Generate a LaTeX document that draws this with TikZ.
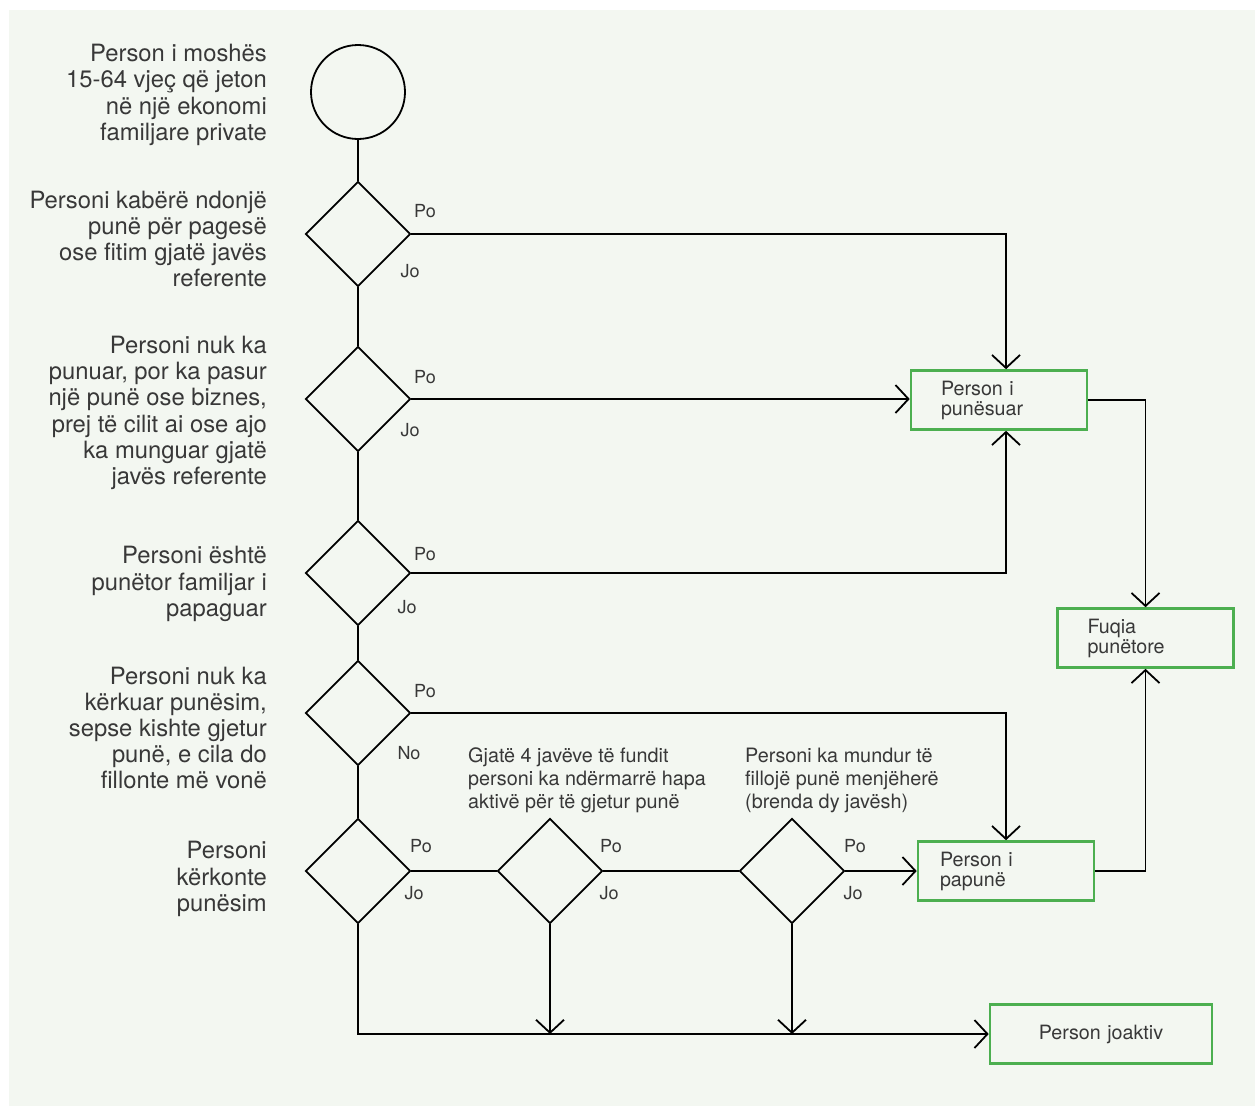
\documentclass[tikz,border=0pt]{standalone}
\usepackage{fontspec}
\setmainfont{TeX Gyre Heros}
\usetikzlibrary{shapes.geometric,arrows.meta}
\definecolor{panel}{RGB}{243,247,241}
\definecolor{boxgreen}{RGB}{76,175,80}
\definecolor{ink}{RGB}{56,56,56}

\begin{document}
\begin{tikzpicture}[x=1pt,y=-1pt,
    decision/.style={draw, diamond, aspect=1, minimum size=105pt, inner sep=0pt, line width=1.8pt},
    outcome/.style={draw=boxgreen, line width=2.6pt, minimum height=59pt, text=ink,
        font=\fontsize{19.7}{20}\selectfont, align=left, text width=116pt, inner xsep=30pt},
    question/.style={anchor=east, align=right, text=ink, font=\fontsize{23.8}{26.2}\selectfont, inner sep=0pt},
    note/.style={anchor=west, align=left, text=ink, font=\fontsize{19.8}{23}\selectfont, inner sep=0pt},
    answer/.style={text=ink, font=\fontsize{18}{18}\selectfont, inner sep=0pt},
    link/.style={line width=1.8pt},
    flow/.style={line width=1.8pt, -{Straight Barb[length=13pt,width=28pt]}}]

    \useasboundingbox (0,0) rectangle (1255,1106);
    \fill[panel] (9,10) rectangle (1255,1106);

    % Main column
    \node[draw, circle, minimum size=94pt, line width=1.8pt] (start) at (358,92) {};
    \node[decision] (d1) at (358,234) {};
    \node[decision] (d2) at (358,399) {};
    \node[decision] (d3) at (358,573) {};
    \node[decision] (d4) at (358,713) {};
    \node[decision] (d5) at (358,871) {};
    \node[decision] (d6) at (550,871) {};
    \node[decision] (d7) at (792,871) {};

    % Questions
    \node[question] (q0) at (267,95) {Person i moshës\\15-64 vjeç që jeton\\në një ekonomi\\familjare private};
    \node[question] (q1) at (267,239) {Personi kabërë ndonjë\\punë për pagesë\\ose fitim gjatë javës\\referente};
    \node[question] (q2) at (267,413) {Personi nuk ka\\punuar, por ka pasur\\një punë ose biznes,\\prej të cilit ai ose ajo\\ka munguar gjatë\\javës referente};
    \node[question] (q3) at (267,584) {Personi është\\punëtor familjar i\\papaguar};
    \node[question] (q4) at (267,728) {Personi nuk ka\\kërkuar punësim,\\sepse kishte gjetur\\punë, e cila do\\fillonte më vonë};
    \node[question] (q5) at (267,879) {Personi\\kërkonte\\punësim};
    \node[note] (q6) at (468,780) {Gjatë 4 javëve të fundit\\personi ka ndërmarrë hapa\\aktivë për të gjetur punë};
    \node[note] (q7) at (745,780) {Personi ka mundur të\\fillojë punë menjëherë\\(brenda dy javësh)};

    % Outcomes
    \node[outcome] (emp) at (999,400) {Person i\\punësuar};
    \node[outcome] (lab) at (1145.5,638) {Fuqia\\punëtore};
    \node[outcome, inner xsep=22pt, text width=132pt] (unemp) at (1006,871) {Person i\\papunë};
    \node[outcome, align=center, text width=162pt] (inact) at (1101,1034) {Person joaktiv};

    % Answers
    \node[answer] (po1) at (425,211) {Po};   \node[answer] (jo1) at (410,271) {Jo};
    \node[answer] (po2) at (425,377) {Po};   \node[answer] (jo2) at (410,430) {Jo};
    \node[answer] (po3) at (425,554) {Po};   \node[answer] (jo3) at (407,607) {Jo};
    \node[answer] (po4) at (425,691) {Po};   \node[answer] (no4) at (409,753) {No};
    \node[answer] (po5) at (421,846) {Po};   \node[answer] (jo5) at (414,893) {Jo};
    \node[answer] (po6) at (611,846) {Po};   \node[answer] (jo6) at (609,893) {Jo};
    \node[answer] (po7) at (855,846) {Po};   \node[answer] (jo7) at (853,893) {Jo};

    % Jo branch
    \draw[link] (start.south) -- (d1.north);
    \draw[link] (d1.south) -- (d2.north);
    \draw[link] (d2.south) -- (d3.north);
    \draw[link] (d3.south) -- (d4.north);
    \draw[link] (d4.south) -- (d5.north);
    \draw[link] (d5.east) -- (d6.west);
    \draw[link] (d6.east) -- (d7.west);

    % Po branch
    \draw[flow] (d1.east) -| ([xshift=7pt]emp.north);
    \draw[flow] (d2.east) -- (d2.east -| emp.west);
    \draw[flow] (d3.east) -| ([xshift=7pt]emp.south);
    \draw[flow] (d4.east) -| (unemp.north);
    \draw[flow] (d7.east) -- (unemp.west);
    \draw[flow] (emp.east) -| (lab.north);
    \draw[flow] (unemp.east) -| (lab.south);

    % Inactive
    \coordinate (m6) at (d6.south |- inact.west);
    \coordinate (m7) at (d7.south |- inact.west);
    \draw[flow] (d5.south) |- (inact.west);
    \draw[flow] (d6.south) -- (m6);
    \draw[flow] (d7.south) -- (m7);
\end{tikzpicture}
\end{document}
